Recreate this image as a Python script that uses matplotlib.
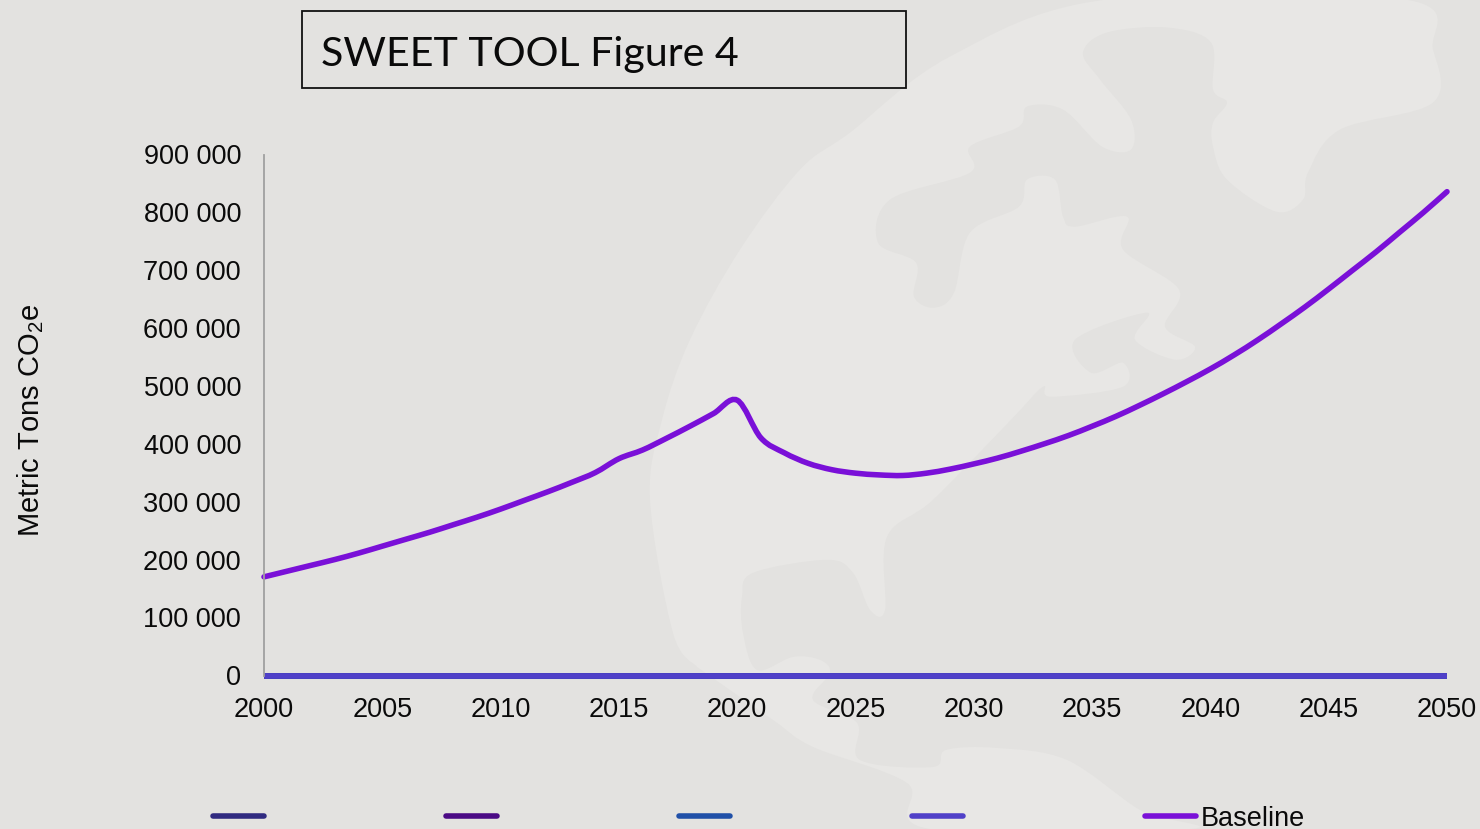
import numpy as np
import matplotlib
matplotlib.use("Agg")
from matplotlib import pyplot as plt
from matplotlib.lines import Line2D
from matplotlib.patches import PathPatch, Rectangle
from matplotlib.path import Path
from matplotlib.ticker import FuncFormatter
from matplotlib.transforms import ScaledTranslation

W, H = 1480, 829

years = np.arange(2000, 2051)
baseline = [171, 181, 191, 201, 212, 224, 236, 248, 261, 274,
            288, 303, 318, 334, 351, 375, 390, 410, 431, 453,
            476, 411, 385, 367, 356, 350, 347, 346, 350, 357,
            366, 376, 388, 401, 415, 431, 448, 467, 487, 508,
            530, 554, 580, 608, 637, 668, 700, 732, 766, 800,
            836]
baseline = np.array(baseline) * 1000
zero_line = np.zeros(len(years))

series_names = ["", "", "", "", "Baseline"]
series_colors = ["#302a80", "#4b0a85", "#2050a8", "#5040c8", "#7a10d8"]

# light "ocean" part of the watermark globe, traced in pixels
ocean = [(697, 667), (673, 633), (650, 500), (662, 420), (690, 340), (740, 250), (800, 170),
         (850, 133), (950, 57), (1107, 0), (1405, 0), (1433, 50), (1433, 103), (1340, 130),
         (1308, 173), (1303, 200), (1276, 212), (1227, 180), (1213, 147), (1213, 123),
         (1227, 103), (1213, 90), (1211, 43), (1167, 28), (1107, 33), (1083, 53), (1100, 80),
         (1131, 120), (1131, 150), (1102, 147), (1063, 110), (1027, 107), (1019, 127),
         (970, 147), (970, 173), (890, 200), (878, 243), (916, 263), (914, 297), (934, 308),
         (954, 293), (970, 233), (1019, 207), (1027, 180), (1055, 180), (1063, 217), (1075, 227),
         (1127, 217), (1123, 250), (1179, 290), (1165, 327), (1195, 347), (1175, 360), (1135, 340),
         (1147, 313), (1075, 340), (1091, 373), (1123, 363), (1123, 387), (1051, 397), (1043, 387),
         (1011, 420), (933, 500), (887, 537), (885, 610), (870, 610), (853, 573), (827, 560),
         (753, 573), (742, 597), (743, 633), (757, 670), (793, 657), (820, 660), (830, 673),
         (813, 700), (857, 723), (860, 760), (933, 767), (946, 750), (997, 748), (1067, 760),
         (1140, 810), (1190, 829), (930, 829), (907, 783), (813, 747), (773, 720), (697, 667)]

plt.rcParams['font.family'] = ['Liberation Sans', 'DejaVu Sans']
plt.rcParams['mathtext.default'] = 'regular'


def px(x, y):
    # figure fraction from reference pixels
    return x / W, 1 - y / H


def smooth_path(x, y):
    # same idea as excel's smoothed line, bezier through the values
    verts = [(x[0], y[0])]
    codes = [Path.MOVETO]
    for i in range(len(x) - 1):
        x0, y0 = (x[i - 1], y[i - 1]) if i > 0 else (x[i], y[i])
        x3, y3 = (x[i + 2], y[i + 2]) if i < len(x) - 2 else (x[i + 1], y[i + 1])
        verts.append((x[i] + (x[i + 1] - x0) / 6, y[i] + (y[i + 1] - y0) / 6))
        verts.append((x[i + 1] - (x3 - x[i]) / 6, y[i + 1] - (y3 - y[i]) / 6))
        verts.append((x[i + 1], y[i + 1]))
        codes += [Path.CURVE4] * 3
    return Path(verts, codes)


fig = plt.figure(figsize=(W / 100, (H + 0.5) / 100), dpi=100, facecolor="#e3e2e0")

bg = fig.add_axes([0, 0, 1, 1], zorder=0)
bg.set_xlim(0, W)
bg.set_ylim(H, 0)
bg.axis("off")
ox, oy = zip(*ocean)
bg.add_patch(PathPatch(smooth_path(ox, oy), fc="#e8e7e5", ec="none"))

left, top = px(264, 155)
right, bottom = px(1447, 676)
ax = fig.add_axes([left, bottom, right - left, top - bottom], zorder=1)
ax.patch.set_alpha(0)

for color in series_colors[:4]:
    ax.plot(years, zero_line, color=color, lw=4.1, solid_capstyle="butt", clip_on=False)
ax.add_patch(PathPatch(smooth_path(years, baseline), fc="none", ec=series_colors[4], lw=4.0,
                       capstyle="round", clip_on=False))

ax.set_xlim(2000, 2050)
ax.set_ylim(0, 900000)
ax.set_xticks(np.arange(2000, 2051, 5))
ax.set_yticks(np.arange(0, 900001, 100000))
ax.yaxis.set_major_formatter(FuncFormatter(lambda v, p: f"{int(v):,}".replace(",", " ")))
ax.tick_params(axis="both", length=0, labelsize=19.5, labelcolor="#0a0a0a")
ax.tick_params(axis="x", pad=14.5)
ax.tick_params(axis="y", pad=16.5)
# labels sit one pixel higher in the original
nudge = ScaledTranslation(0, 1 / 100, fig.dpi_scale_trans)
for lbl in ax.get_yticklabels():
    lbl.set_transform(lbl.get_transform() + nudge)
for s in ["top", "right", "bottom"]:
    ax.spines[s].set_visible(False)
ax.spines["left"].set_color("#a0a0a0")
ax.spines["left"].set_linewidth(1.3)

fig.text(*px(31, 420), "Metric Tons CO$_2$e", rotation=90, fontsize=21, color="#0a0a0a",
         ha="center", va="center")

# title box
fig.add_artist(Rectangle(px(302, 88), 604 / W, 77 / H, transform=fig.transFigure,
                         fc="none", ec="#111111", lw=1.3))
fig.text(*px(321, 54), "SWEET TOOL Figure 4", fontsize=29.6, family=["Lato", "DejaVu Sans"],
         color="#0a0a0a", ha="left", va="center")

handles = [Line2D([], [], color=c, lw=4.0, solid_capstyle="round") for c in series_colors]
fig.legend(handles, series_names, ncol=5, frameon=False, fontsize=19.5,
           loc="lower left", bbox_to_anchor=px(213, 831), borderaxespad=0, borderpad=0,
           handlelength=1.88, handletextpad=0.2, columnspacing=6.52, labelcolor="#0a0a0a")

fig.savefig("out.png", dpi=100, facecolor=fig.get_facecolor())
